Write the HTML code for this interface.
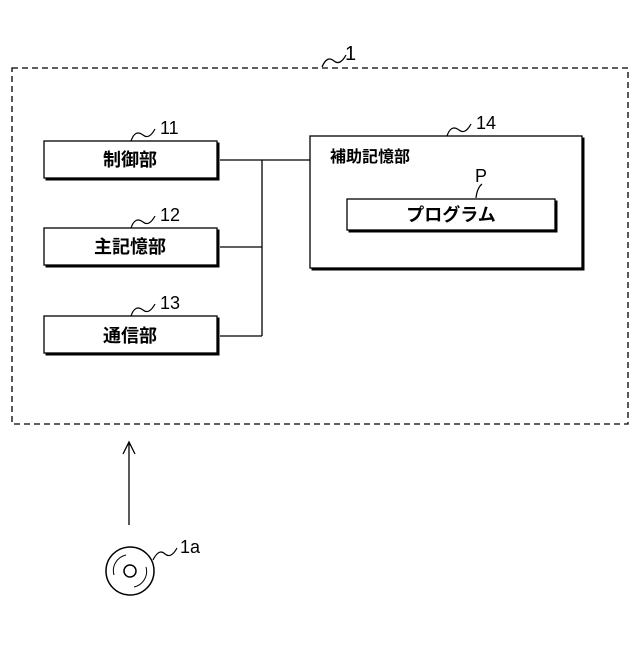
<!DOCTYPE html><html><head><style>body{margin:0;background:#fff}</style></head><body>
<svg width="640" height="640" xmlns="http://www.w3.org/2000/svg" font-family="'Liberation Sans','Noto Sans CJK JP',sans-serif">
<rect width="640" height="640" fill="#fff"/>
<rect x="12" y="68" width="616" height="356" fill="none" stroke="#000" stroke-width="1.3" stroke-dasharray="6,4"/>
<path d="M322 67 q5 -12 12 -6 q6 5 12 -6" fill="none" stroke="#000" stroke-width="1.3"/>
<text x="345" y="60" font-size="20">1</text>
<g stroke="#000" fill="none">
<rect x="46" y="143" width="173" height="37" fill="#000"/>
<rect x="44" y="141" width="173" height="37" fill="#fff" stroke-width="1.3"/>
<rect x="46" y="230" width="173" height="37" fill="#000"/>
<rect x="44" y="228" width="173" height="37" fill="#fff" stroke-width="1.3"/>
<rect x="46" y="318" width="173" height="37" fill="#000"/>
<rect x="44" y="316" width="173" height="37" fill="#fff" stroke-width="1.3"/>
<rect x="312" y="138" width="272" height="132" fill="#000"/>
<rect x="310" y="136" width="272" height="132" fill="#fff" stroke-width="1.3"/>
<rect x="349" y="201" width="208" height="31" fill="#000"/>
<rect x="347" y="199" width="208" height="31" fill="#fff" stroke-width="1.3"/>
<path d="M220 160 H310 M220 247 H262 M220 336 H262 M262 160 V336" stroke-width="1.3"/>
<path d="M131 141 q4 -12 12 -6 q6 5 12 -6 M131 228 q4 -12 12 -6 q6 5 12 -6 M131 316 q4 -12 12 -6 q6 5 12 -6 M447 136 q4 -12 12 -6 q6 5 12 -6 M476 198 q1 -10 6 -14 M153 560 q6 -12 12 -6 q6 5 12 -6" stroke-width="1.2"/>
<path d="M129 525 V442 M123 454 L129 442 L135 454" stroke-width="1.3"/>
<circle cx="130" cy="571" r="24" stroke-width="1.5"/>
<circle cx="130" cy="571" r="6" stroke-width="1.5"/>
<path d="M114 575 a16 16 0 0 1 12 -20 M146 567 a16 16 0 0 1 -12 20" stroke-width="1"/>
</g>
<g font-size="18" font-weight="bold" text-anchor="middle">
<text x="130" y="166">制御部</text>
<text x="130" y="253">主記憶部</text>
<text x="130" y="342">通信部</text>
<text x="451" y="221">プログラム</text>
</g>
<text x="330" y="162" font-size="16" font-weight="bold">補助記憶部</text>
<g font-size="18">
<text x="160" y="134">11</text>
<text x="160" y="221">12</text>
<text x="160" y="309">13</text>
<text x="476" y="129">14</text>
<text x="475" y="182">P</text>
<text x="180" y="553">1a</text>
</g>
</svg></body></html>
